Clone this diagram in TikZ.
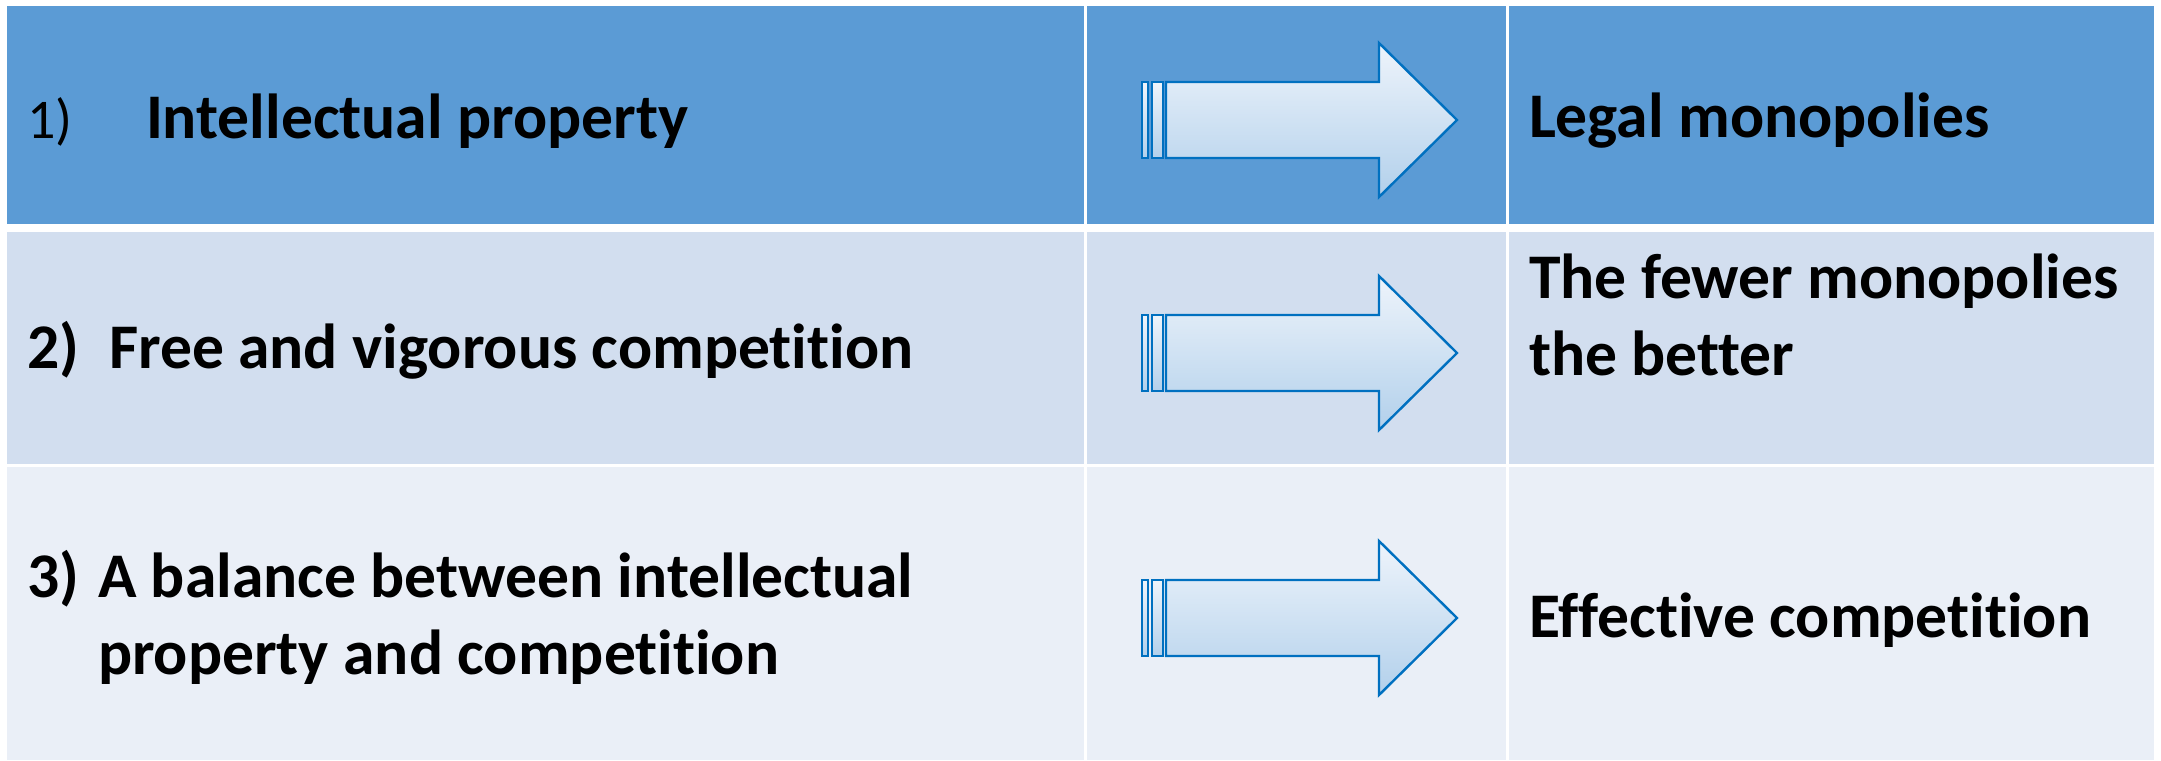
\documentclass[tikz,border=0pt]{standalone}
\usepackage{fontspec}
\setmainfont{Carlito}[Ligatures={NoCommon}]
\definecolor{rowA}{HTML}{5B9BD5}
\definecolor{rowB}{HTML}{D2DEEF}
\definecolor{rowC}{HTML}{EAEFF7}
\definecolor{arrline}{HTML}{0070C0}
\definecolor{arrtop}{HTML}{EEF4FB}
\definecolor{arrbot}{HTML}{B2D0EB}
\tikzset{
  cellA/.style={fill=rowA, draw=none},
  cellB/.style={fill=rowB, draw=none},
  cellC/.style={fill=rowC, draw=none},
  sepline/.style={draw=white, line width=1.5pt},
  arrpart/.style={draw=arrline, line width=1.2pt, line join=miter, top color=arrtop, bottom color=arrbot},
  txt/.style={anchor=base west, inner sep=0pt, outer sep=0pt, text=black, font=\fontsize{31.8}{38.5}\selectfont\bfseries},
  numreg/.style={anchor=base west, inner sep=0pt, outer sep=0pt, text=black, font=\fontsize{28}{33}\selectfont},
  pics/fatarrow/.style={code={
    \path[arrpart] (1142,-38) rectangle (1148,38);
    \path[arrpart] (1152,-38) rectangle (1163,38);
    \path[arrpart] (1166,-38) -- (1379,-38) -- (1379,-77) -- (1457,0) -- (1379,77) -- (1379,38) -- (1166,38) -- cycle;
  }}
}
\begin{document}
\begin{tikzpicture}[x=0.5pt, y=-0.5pt]
\useasboundingbox (0,0) rectangle (2161,760);
\fill[white] (0,0) rectangle (2161,760);
% table rows
\path[cellA] (7,6) rectangle (2154,224);
\path[cellB] (7,232) rectangle (2154,464);
\path[cellC] (7,467) rectangle (2154,760);
% column separators
\draw[sepline] (1085,6) -- (1085,760);
\draw[sepline] (1507,6) -- (1507,760);
% arrows
\pic (a1) at (0,120) {fatarrow};
\pic (a2) at (0,353) {fatarrow};
\pic (a3) at (0,618) {fatarrow};
% row 1
\node[numreg] (n1) at (27,138) {1)};
\node[txt] (t1) at (146,138) {Intellectual property};
\node[txt] (r1) at (1529,137) {Legal monopolies};
% row 2
\node[txt] (n2) at (27,368) {2)};
\node[txt] (t2) at (109,368) {Free and vigorous competition};
\node[txt] (r2a) at (1529,298) {The fewer monopolies};
\node[txt] (r2b) at (1529,375) {the better};
% row 3
\node[txt] (n3) at (27,597) {3)};
\node[txt] (t3a) at (98,597) {A balance between intellectual};
\node[txt] (t3b) at (98,674) {property and competition};
\node[txt] (r3) at (1529,637) {Effective competition};
\end{tikzpicture}
\end{document}
